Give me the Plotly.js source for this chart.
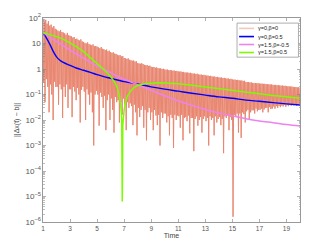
<!DOCTYPE html>
<html>
<head>
<meta charset="utf-8">
<script src="https://cdn.plot.ly/plotly-3.0.1.min.js"></script>
<style>html,body{margin:0;padding:0;background:#fff;}#chart{width:332px;height:249px;}</style>
</head>
<body>
<div id="chart"></div>
<script>
// ---- data ----
var seriesNames = ['γ=0,β=0', 'γ=0,β=0.5', 'γ=1.5,β=-0.5', 'γ=1.5,β=0.5'];

// γ=0, β=0 : sampled every 0.05 time units starting at t = 1 (one row = 0.5 time units)
var salmonStart = 1;
var salmonStep = 0.05;
var salmonY = [
  95, 0.3, 70, 0.05, 85, 0.4, 60, 0.2, 75, 0.02,
  50, 0.25, 55, 0.1, 42, 0.01, 48, 0.32, 38, 0.2,
  35, 0.2, 32, 0.04, 30, 0.25, 34, 0.16, 28, 0.012,
  27, 0.2, 25, 0.08, 22, 0.25, 26, 0.03, 21, 0.16,
  20, 0.16, 19, 0.013, 17, 0.2, 18, 0.13, 15, 0.06,
  15.5, 0.18, 14, 0.1, 13, 0.008, 14.5, 0.15, 12, 0.2,
  11.5, 0.13, 10.5, 0.01, 10, 0.16, 11, 0.1, 9.5, 0.04,
  9, 0.12, 8.5, 0.02, 9.2, 0.001, 7.8, 0.1, 8, 0.14,
  7.5, 0.1, 7, 0.006, 6.5, 0.12, 7.2, 0.08, 6.2, 0.03,
  6, 0.09, 5.5, 0.004, 5.8, 0.06, 5, 0.1, 5.2, 0.01,
  4.6, 0.07, 4.3, 0.025, 4.5, 0.0032, 4, 0.08, 3.9, 0.05,
  3.6, 0.06, 3.4, 0.008, 3.5, 0.05, 3.1, 0.016, 3.2, 0.07,
  2.7, 0.04, 2.6, 0.004, 2.5, 0.05, 2.6, 0.03, 2.3, 0.045,
  2.2, 0.035, 2.1, 0.0063, 2.15, 0.04, 1.95, 0.02, 2.0, 0.0025,
  1.7, 0.03, 1.65, 0.013, 1.6, 0.025, 1.68, 0.035, 1.55, 0.005,
  1.45, 0.025, 1.4, 0.0016, 1.42, 0.02, 1.32, 0.03, 1.35, 0.01,
  1.22, 0.02, 1.18, 0.004, 1.2, 0.025, 1.12, 0.015, 1.15, 0.0063,
  1.08, 0.016, 1.05, 0.001, 1.06, 0.02, 1.0, 0.012, 1.02, 0.018,
  0.96, 0.018, 0.94, 0.008, 0.95, 0.014, 0.9, 0.0025, 0.91, 0.016,
  0.88, 0.012, 0.86, 0.0008, 0.87, 0.016, 0.83, 0.01, 0.84, 0.015,
  0.8, 0.014, 0.79, 0.005, 0.8, 0.016, 0.76, 0.0016, 0.77, 0.012,
  0.73, 0.013, 0.72, 0.009, 0.73, 0.015, 0.7, 0.003, 0.71, 0.012,
  0.67, 0.012, 0.66, 0.0006, 0.665, 0.011, 0.64, 0.014, 0.65, 0.006,
  0.61, 0.01, 0.6, 0.013, 0.605, 0.0032, 0.58, 0.011, 0.59, 0.014,
  0.56, 0.009, 0.55, 0.012, 0.555, 0.001, 0.53, 0.014, 0.54, 0.01,
  0.51, 0.012, 0.5, 0.0025, 0.505, 0.014, 0.48, 0.008, 0.49, 0.011,
  0.47, 0.013, 0.46, 0.0063, 0.465, 0.011, 0.44, 0.0005, 0.45, 0.014,
  0.43, 0.012, 0.42, 0.015, 0.425, 0.004, 0.4, 0.013, 0.41, 0.01,
  0.39, 1.6e-6, 0.38, 0.016, 0.385, 0.014, 0.37, 0.018, 0.375, 0.0032,
  0.36, 0.018, 0.35, 0.002, 0.355, 0.02, 0.34, 0.017, 0.345, 0.008,
  0.31, 0.022, 0.305, 0.025, 0.31, 0.01, 0.295, 0.02, 0.3, 0.024,
  0.285, 0.024, 0.28, 0.018, 0.283, 0.028, 0.275, 0.022, 0.278, 0.025,
  0.27, 0.025, 0.265, 0.028, 0.268, 0.02, 0.26, 0.026, 0.262, 0.03,
  0.255, 0.03, 0.25, 0.02, 0.252, 0.032, 0.245, 0.027, 0.248, 0.028,
  0.24, 0.034, 0.236, 0.028, 0.238, 0.035, 0.232, 0.03, 0.234, 0.036,
  0.226, 0.032, 0.222, 0.037, 0.224, 0.034, 0.218, 0.04, 0.22, 0.033,
  0.212, 0.038, 0.208, 0.035, 0.21, 0.04, 0.204, 0.036, 0.206, 0.039,
  0.198, 0.037, 0.195, 0.04, 0.196, 0.036, 0.19, 0.041, 0.192, 0.038,
  0.186
];

// γ=0, β=0.5
var blueT = [1, 1.25, 1.5, 1.75, 2, 2.25, 2.5, 3, 3.5, 4, 4.5, 5, 5.5, 6, 6.5, 7, 7.5, 8, 9, 10, 11, 12, 13, 14, 15, 16, 17, 18, 19, 20];
var blueY = [27, 16.6, 9.5, 5, 3, 2.2, 1.8, 1.38, 1.07, 0.89, 0.74, 0.6, 0.5, 0.43, 0.37, 0.32, 0.29, 0.257, 0.2, 0.162, 0.135, 0.112, 0.095, 0.081, 0.071, 0.06, 0.054, 0.048, 0.043, 0.039];

// γ=1.5, β=-0.5
var pinkT = [1, 2, 3, 4, 5, 5.5, 6, 6.5, 7, 7.5, 8, 9, 10, 11, 12, 13, 14, 15, 16, 17, 18, 19, 20];
var pinkY = [27, 12, 5.5, 2.6, 1.32, 0.98, 0.72, 0.52, 0.4, 0.31, 0.24, 0.145, 0.089, 0.056, 0.038, 0.026, 0.019, 0.0145, 0.0112, 0.0091, 0.0078, 0.0066, 0.0058];

// γ=1.5, β=0.5
var greenT = [1, 1.5, 2, 2.5, 3, 3.5, 4, 4.5, 5, 5.5, 6, 6.3, 6.5, 6.65, 6.75, 6.82, 6.86, 6.9, 7, 7.1, 7.25, 7.5, 7.75, 8, 8.5, 9, 9.5, 10, 11, 12, 13, 14, 15, 16, 17, 18, 19, 20];
var greenY = [27, 23, 18.6, 14.8, 10.7, 7.4, 4.8, 2.8, 1.66, 0.95, 0.5, 0.3, 0.18, 0.089, 0.035, 0.01, 6.3e-6, 0.0063, 0.025, 0.05, 0.089, 0.141, 0.19, 0.224, 0.263, 0.28, 0.29, 0.28, 0.263, 0.23, 0.195, 0.166, 0.141, 0.12, 0.105, 0.091, 0.081, 0.072];

var xTickVals = [1, 3, 5, 7, 9, 11, 13, 15, 17, 19];

// ---- styles ----
var colors = ['rgb(233,134,112)', 'rgb(0,0,255)', 'rgb(238,130,238)', 'rgb(124,252,0)'];
var widths = [1.0, 1.4, 1.5, 1.5];
var fontFamily = 'Liberation Sans, Arial, sans-serif';

var traces = [
  {x0: salmonStart, dx: salmonStep, y: salmonY, type: 'scatter', mode: 'lines', name: seriesNames[0],
   line: {color: colors[0], width: widths[0]}},
  {x: blueT, y: blueY, type: 'scatter', mode: 'lines', name: seriesNames[1], line: {color: colors[1], width: widths[1], shape: 'spline'}},
  {x: pinkT, y: pinkY, type: 'scatter', mode: 'lines', name: seriesNames[2], line: {color: colors[2], width: widths[2], shape: 'spline'}},
  {x: greenT, y: greenY, type: 'scatter', mode: 'lines', name: seriesNames[3], line: {color: colors[3], width: widths[3]}}
];

// compact legend box (paper coordinates)
var shapes = [{type: 'rect', xref: 'paper', yref: 'paper', x0: 0.755, x1: 0.994, y0: 0.808, y1: 0.975,
  line: {color: '#999', width: 0.8}, fillcolor: '#fff'}];
var annotations = [];
var rowY = [0.949, 0.909, 0.870, 0.831];
for (var i = 0; i < seriesNames.length; i++) {
  shapes.push({type: 'line', xref: 'paper', yref: 'paper', x0: 0.763, x1: 0.821, y0: rowY[i], y1: rowY[i],
    line: {color: colors[i], width: 1.6}, opacity: i === 0 ? 0.45 : 1});
  annotations.push({xref: 'paper', yref: 'paper', x: 0.828, y: rowY[i], xanchor: 'left', yanchor: 'middle',
    text: seriesNames[i], showarrow: false, font: {family: fontFamily, size: 5.5, color: '#222'}});
}

var axisCommon = {
  showline: true, linecolor: '#7f7f7f', linewidth: 0.8, mirror: 'ticks',
  ticks: 'inside', ticklen: 3, tickwidth: 0.6, tickcolor: '#7f7f7f',
  showgrid: false, zeroline: false,
  tickfont: {family: fontFamily, size: 6.5, color: '#555'}
};

var layout = {
  width: 332, height: 249,
  margin: {l: 43, r: 32, t: 18, b: 27, pad: 0},
  paper_bgcolor: '#fff', plot_bgcolor: '#fff',
  showlegend: false,
  xaxis: Object.assign({}, axisCommon, {
    range: [1, 20], tickmode: 'array', tickvals: xTickVals,
    title: {text: 'Time', standoff: 2, font: {family: fontFamily, size: 7, color: '#444'}}
  }),
  yaxis: Object.assign({}, axisCommon, {
    type: 'log', range: [-6, 2], dtick: 1, exponentformat: 'power',
    minor: {ticks: 'inside', ticklen: 1.5, tickwidth: 0.5, tickcolor: '#7f7f7f', dtick: 'D1', showgrid: false},
    title: {text: '||Δx(t) − b||', standoff: 4, font: {family: fontFamily, size: 7, color: '#444'}}
  }),
  shapes: shapes,
  annotations: annotations
};

Plotly.newPlot('chart', traces, layout, {staticPlot: true, displayModeBar: false});
</script>
</body>
</html>
